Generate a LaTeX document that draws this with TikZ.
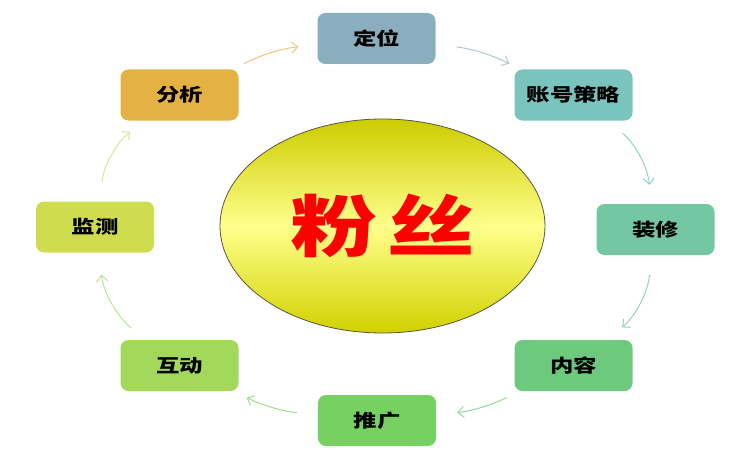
\documentclass[tikz,border=0pt]{standalone}
\usepackage{fontspec}
\newfontfamily\cjk[FakeStretch=1.3]{Noto Sans CJK SC}
\usetikzlibrary{shapes.geometric, arrows.meta}

\definecolor{c-1}{HTML}{89AFBF}
\definecolor{c-2}{HTML}{7AC4BE}
\definecolor{c-3}{HTML}{73C7A2}
\definecolor{c-4}{HTML}{6DC97E}
\definecolor{c-5}{HTML}{77D062}
\definecolor{c-6}{HTML}{A2D95B}
\definecolor{c-7}{HTML}{CFDC4D}
\definecolor{c-8}{HTML}{E4B242}
\definecolor{l-1}{HTML}{AFC8D4}
\definecolor{l-2}{HTML}{95D0CC}
\definecolor{l-3}{HTML}{92D4B8}
\definecolor{l-4}{HTML}{94D8A0}
\definecolor{l-5}{HTML}{9CDC8E}
\definecolor{l-6}{HTML}{BCE490}
\definecolor{l-7}{HTML}{D9E68F}
\definecolor{l-8}{HTML}{EDC67E}

\tikzset{
	every block/.style={rectangle, rounded corners=8pt, minimum width=118pt,
		minimum height=51pt, inner sep=0pt, text=black,
		font=\cjk\bfseries\fontsize{18}{22}\selectfont},
	every link/.style={line width=1pt, -{Straight Barb[length=6pt, width=11pt]}}
}

\begin{document}
\begin{tikzpicture}[x=1pt, y=1pt]

		\useasboundingbox (0,0) rectangle (750,-460);

		% Fans
		\node [ellipse, draw=black!75!yellow, line width=0.8pt,
			minimum width=325pt, minimum height=214pt,
			top color=yellow!80!black, bottom color=yellow!82!black, middle color=yellow!45,
			text=red, font=\cjk\bfseries\fontsize{67}{70}\selectfont] (fans) at (382.5,-226) {
			粉\hspace{10pt}丝
		};

		% Steps
		\node [every block, fill=c-1] (blk-1) at (376.5,-38.5) {定位};
		\node [every block, fill=c-2] (blk-2) at (573.5,-95) {账号策略};
		\node [every block, fill=c-3] (blk-3) at (655.5,-229.5) {装修};
		\node [every block, fill=c-4] (blk-4) at (573.5,-365.5) {内容};
		\node [every block, fill=c-5] (blk-5) at (377,-420.5) {推广};
		\node [every block, fill=c-6] (blk-6) at (179.5,-365.5) {互动};
		\node [every block, fill=c-7] (blk-7) at (95,-227) {监测};
		\node [every block, fill=c-8] (blk-8) at (179.5,-95) {分析};

		% Cycle arrows
		\foreach \a/\b/\bend/\sa/\sb in {8/1/10/13/19, 1/2/10/21/13, 2/3/22/19/19, 3/4/22/20/19,
				4/5/10/15/21, 5/6/10/21/15, 6/7/22/18/22, 7/8/22/20/17}
			\draw [every link, color=l-\a, shorten <=\sa pt, shorten >=\sb pt]
				(blk-\a) to [bend left=\bend] (blk-\b);

	\end{tikzpicture}
\end{document}
